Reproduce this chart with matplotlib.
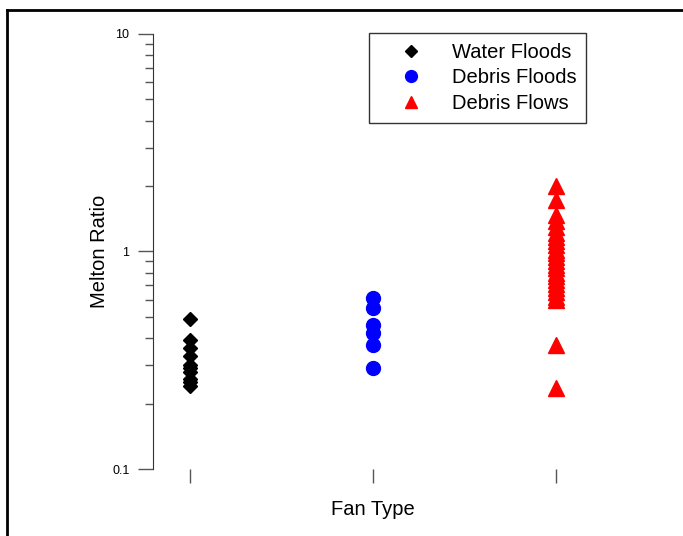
import numpy as np
import matplotlib.pyplot as plt
from matplotlib.lines import Line2D
from matplotlib.ticker import LogLocator, NullFormatter, FixedFormatter, FixedLocator

plt.rcParams['font.family'] = ['Liberation Sans', 'DejaVu Sans']

# Melton ratio for each fan type
water_floods = [0.49, 0.39, 0.36, 0.33, 0.30, 0.29, 0.28, 0.26, 0.25, 0.24]
debris_floods = [0.61, 0.55, 0.46, 0.42, 0.37, 0.29]
debris_flows = [2.0, 1.72, 1.47, 1.38, 1.30, 1.22, 1.17, 1.12, 1.07, 1.02,
                0.98, 0.94, 0.90, 0.87, 0.84, 0.80, 0.77, 0.74, 0.71, 0.68,
                0.65, 0.62, 0.60, 0.37, 0.235]
fan_pos = [1, 2, 3]

fig = plt.figure(figsize=(6.83, 5.36), dpi=100)
ax = fig.add_axes([0.224, 0.125, 0.644, 0.8116])

ax.plot(np.full(len(water_floods), fan_pos[0]), water_floods, linestyle='none',
        marker='D', markersize=7.2, color='black', label='Water Floods')
ax.plot(np.full(len(debris_floods), fan_pos[1]), debris_floods, linestyle='none',
        marker='o', markersize=10, color='#0000ff', label='Debris Floods')
ax.plot(np.full(len(debris_flows), fan_pos[2]), debris_flows, linestyle='none',
        marker='^', markersize=11, color='#ff0000', label='Debris Flows')

ax.set_yscale('log')
ax.set_ylim(0.1, 10)
ax.set_xlim(0.8, 3.2)

ax.yaxis.set_major_locator(FixedLocator([0.1, 1, 10]))
ax.yaxis.set_major_formatter(FixedFormatter(['0.1', '1', '10']))
ax.yaxis.set_minor_locator(LogLocator(base=10, subs=np.arange(2, 10)))
ax.yaxis.set_minor_formatter(NullFormatter())
ax.set_xticks(fan_pos)
ax.set_xticklabels([])

ax.tick_params(axis='y', which='major', length=11, width=1, color='#555555',
               labelsize=9, pad=6)
ax.tick_params(axis='y', which='minor', length=6, width=1, color='#555555')
ax.tick_params(axis='x', which='major', length=10, width=1, color='#555555',
               direction='out')

for side in ['top', 'right', 'bottom']:
    ax.spines[side].set_visible(False)
ax.spines['left'].set_color('#333333')

ax.set_ylabel('Melton Ratio', fontsize=14.5, labelpad=2)
ax.set_xlabel('Fan Type', fontsize=14.5, labelpad=9)

leg = ax.legend(loc='upper left', bbox_to_anchor=(0.491, 1.003), fontsize=14.5,
                frameon=True, fancybox=False, edgecolor='black',
                borderpad=0.5, handletextpad=0.4, labelspacing=0.33,
                borderaxespad=0, handlelength=3.2, markerscale=0.85)
leg.get_frame().set_linewidth(1.0)

# outer frame, top and left edges
fig.add_artist(Line2D([7 / 683, 1.0], [1 - 10 / 536, 1 - 10 / 536],
                      transform=fig.transFigure, color='black', linewidth=2))
fig.add_artist(Line2D([7 / 683, 7 / 683], [0.0, 1 - 10 / 536],
                      transform=fig.transFigure, color='black', linewidth=2))

fig.savefig('out.png', dpi=100)
